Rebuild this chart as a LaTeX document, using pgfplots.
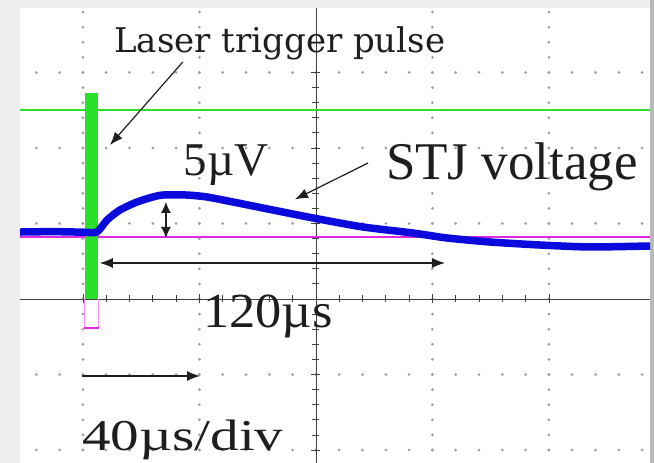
\documentclass[border=0pt]{standalone}
\usepackage{fontspec}
\setmainfont{Liberation Serif}
\newfontfamily\dvserif{DejaVu Serif}
\usepackage{pgfplots}
\pgfplotsset{compat=1.18}
\usetikzlibrary{arrows.meta}
\definecolor{bgc}{RGB}{238,238,238}
\definecolor{shadow}{RGB}{185,185,185}
\definecolor{trgreen}{RGB}{40,225,40}
\definecolor{trblue}{RGB}{10,10,220}
\definecolor{trmag}{RGB}{225,40,225}
\definecolor{trpink}{RGB}{255,140,255}
\definecolor{txt}{RGB}{30,30,30}
\begin{document}
\begin{tikzpicture}[x=1pt,y=1pt]
\fill[bgc] (0,0) rectangle (654,463);
\fill[shadow] (650,0) rectangle (654,463);
\fill[white] (20,0) rectangle (650,455);
\begin{axis}[
  at={(20pt,0pt)}, anchor=south west, scale only axis,
  width=630pt, height=455pt,
  xmin=-101.6, xmax=114.7, ymin=-2.172, ymax=3.854,
  axis lines=center, axis line style={-, draw=black!75, line width=0.8pt},
  xtick={-80,-40,...,80}, ytick={-2,-1,...,3},
  minor x tick num=4, minor y tick num=4,
  xticklabels={}, yticklabels={},
  tick align=center, major tick length=9pt, minor tick length=7pt,
  every tick/.style={black!75, line width=0.8pt},
  grid=major,
  x grid style={draw=gray!75, line width=3pt, line cap=round, dash pattern=on 0pt off 15.1pt, dash phase=2.1pt},
  y grid style={draw=gray!75, line width=3pt, line cap=round, dash pattern=on 0pt off 23.3pt, dash phase=7pt},
  clip=false,
]
% magenta reference trace
\addplot[trmag, line width=2pt] coordinates {(-101.6,0.815) (114.7,0.815)};
% green trigger level
\addplot[trgreen, line width=2.5pt] coordinates {(-101.6,2.503) (114.7,2.503)};
% green trigger pulse
\addplot[trgreen, line width=13pt] coordinates {(-77.1,0) (-77.1,2.73)};
% magenta pulse outline
\addplot[trpink, line width=1pt] coordinates {(-79.6,0) (-79.6,-0.38) (-74.6,-0.38) (-74.6,0)};
\addplot[trmag, line width=2pt] coordinates {(-79.6,-0.38) (-74.6,-0.38)};
% STJ voltage trace
\addplot[trblue, line width=7.5pt, smooth, tension=0.4] coordinates {
(-101.6,0.887) (-90,0.892) (-80,0.885) (-75.2,0.887) (-71.7,1.046) (-67.3,1.179)
(-61.4,1.285) (-56.0,1.351) (-52.5,1.377) (-44.3,1.377) (-37.4,1.351) (-28.5,1.285)
(-18.2,1.205) (-1.0,1.073) (16.1,0.954) (33.3,0.874) (45.0,0.808) (59.7,0.755)
(76.9,0.715) (94.1,0.689) (114.7,0.702)};
% annotations
\draw[txt, line width=1.2pt, -{Latex[length=13pt,width=10pt]}] (-45.7,3.139) -- (-70.7,2.040);
\draw[txt, line width=1.2pt, -{Latex[length=13pt,width=10pt]}] (17.9,1.801) -- (-7.2,1.32);
\draw[txt, line width=1.2pt, {Latex[length=11pt,width=10pt]}-{Latex[length=11pt,width=10pt]}] (-51.5,1.285) -- (-51.5,0.808);
\draw[txt, line width=1.2pt, {Latex[length=13pt,width=10pt]}-{Latex[length=13pt,width=10pt]}] (-74.2,0.477) -- (44.3,0.477);
\draw[txt, line width=1.2pt, -{Latex[length=13pt,width=10pt]}] (-80.3,-1.02) -- (-39.8,-1.02);
\node[txt, anchor=base, inner sep=0pt, font=\dvserif\fontsize{34}{40}\selectfont] at (-12.4,3.258) {Laser trigger pulse};
\node[txt, anchor=base, inner sep=0pt, font=\fontsize{47}{54}\selectfont] at (-30.9,1.642) {5µV};
\node[txt, anchor=base, inner sep=0pt, font=\fontsize{53}{60}\selectfont] at (67.3,1.576) {STJ voltage};
\node[txt, anchor=base, inner sep=0pt, xscale=1.07, font=\fontsize{49}{56}\selectfont] at (-16.5,-0.384) {120µs};
\node[txt, anchor=base, inner sep=0pt, xscale=1.3, font=\fontsize{44}{50}\selectfont] at (-45.7,-2.0) {40µs/div};
\end{axis}
\pgfresetboundingbox
\useasboundingbox (0,0) rectangle (654,463);
\end{tikzpicture}
\end{document}
